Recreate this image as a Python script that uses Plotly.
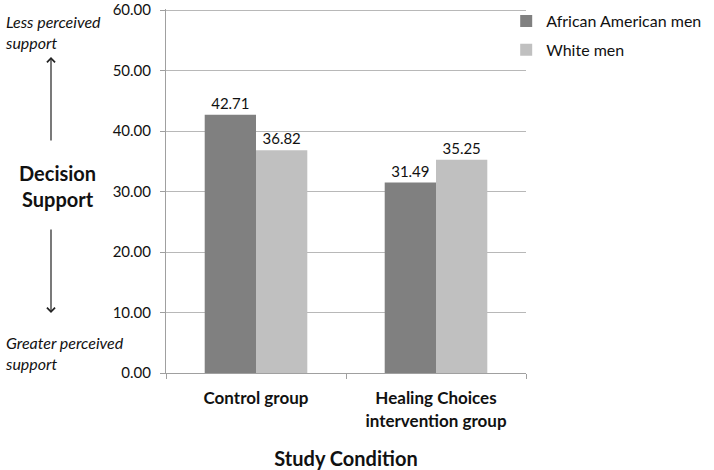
import plotly.graph_objects as go

# study conditions and mean decision support scores
conditions = ["Control group", "Healing Choices<br>intervention group"]
aa_men = [42.71, 31.49]
white_men = [36.82, 35.25]
series_names = ["African American men", "White men"]
y_ticks = [0, 10, 20, 30, 40, 50, 60]

FONT = "Lato, 'Open Sans', sans-serif"
DARK = "#808080"
LIGHT = "#c0c0c0"

fig = go.Figure()
fig.add_trace(go.Bar(x=conditions, y=aa_men, name=series_names[0], legendgroup="a",
                     marker=dict(color=DARK, line=dict(width=0)),
                     text=[f"{v:.2f}" for v in aa_men], textposition="outside",
                     textfont=dict(size=15, color="#111"), cliponaxis=False))
fig.add_trace(go.Bar(x=conditions, y=white_men, name=series_names[1], legendgroup="b",
                     marker=dict(color=LIGHT, line=dict(width=0)),
                     text=[f"{v:.2f}" for v in white_men], textposition="outside",
                     textfont=dict(size=15, color="#111"), cliponaxis=False))

fig.update_layout(
    width=714, height=470,
    margin=dict(l=166, r=188, t=9, b=97, autoexpand=False),
    paper_bgcolor="white", plot_bgcolor="white",
    font=dict(family=FONT, color="#111", size=15),
    barmode="group", bargap=0.43, bargroupgap=0,
    showlegend=True,
    legend=dict(x=0.945, y=1.0135, xanchor="left", yanchor="top",
                font=dict(size=16), itemwidth=30, tracegroupgap=5,
                bgcolor="rgba(0,0,0,0)"),
)

fig.update_yaxes(range=[0, 60.2], tickvals=y_ticks, tickformat=".2f",
                 showgrid=True, gridcolor="#b8b8b8", gridwidth=1,
                 showline=True, linecolor="#a0a0a0", linewidth=1,
                 ticks="outside", ticklen=5, tickcolor="#a0a0a0",
                 tickfont=dict(size=15), ticklabelstandoff=6, zeroline=False,
                 ticklabeloverflow="allow", automargin=False)
fig.update_xaxes(showline=True, linecolor="#a0a0a0", linewidth=1,
                 ticks="outside", ticklen=5, tickcolor="#a0a0a0",
                 tickson="boundaries", tickfont=dict(size=17, weight="bold"),
                 ticklabelstandoff=10, automargin=False,
                 title=dict(text="Study Condition", font=dict(size=20, weight="bold"),
                            standoff=22))

# left-hand explanatory labels and arrows
def px_x(px):
    return (px - 166) / 360

def px_y(py):
    return (373 - py) / 364

fig.add_annotation(xref="paper", yref="paper", x=px_x(3), y=px_y(32),
                   xanchor="left", yanchor="middle", align="left", showarrow=False,
                   text="<i>Less perceived<br>support</i>", font=dict(size=16))
fig.add_annotation(xref="paper", yref="paper", x=px_x(3), y=px_y(353),
                   xanchor="left", yanchor="middle", align="left", showarrow=False,
                   text="<i>Greater perceived<br>support</i>", font=dict(size=16))
fig.add_annotation(xref="paper", yref="paper", x=px_x(57), y=px_y(186),
                   xanchor="center", yanchor="middle", align="center", showarrow=False,
                   text="<b>Decision<br>Support</b>", font=dict(size=20))
fig.add_annotation(xref="paper", yref="paper", x=px_x(51), y=px_y(57),
                   ax=0, ay=85, showarrow=True, arrowhead=4, arrowsize=1.3,
                   arrowwidth=1.2, arrowcolor="#222", text="")
fig.add_annotation(xref="paper", yref="paper", x=px_x(51), y=px_y(313),
                   ax=0, ay=-85, showarrow=True, arrowhead=4, arrowsize=1.3,
                   arrowwidth=1.2, arrowcolor="#222", text="")

# drop the browser's default page margin so the figure sits at the corner
fig.write_html("out.html", config={"displayModeBar": False},
               post_script="document.body.style.margin='0';")
